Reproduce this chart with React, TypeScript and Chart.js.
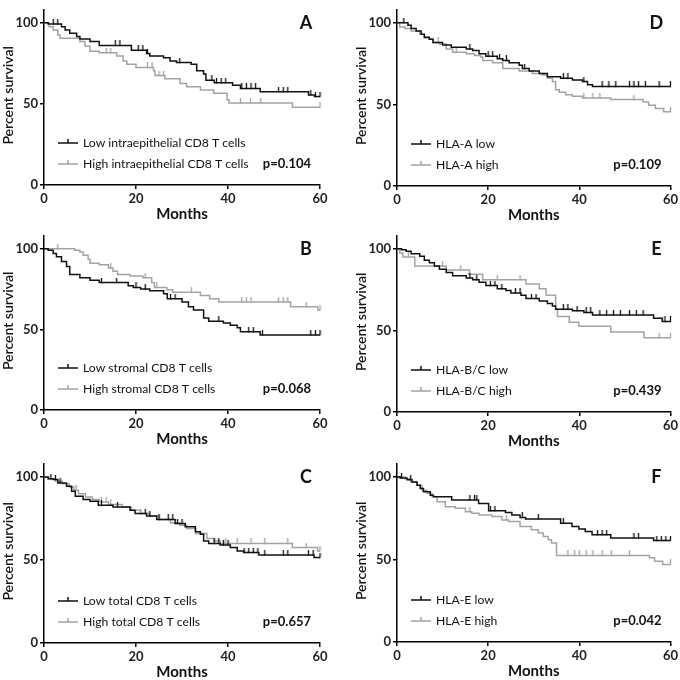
import React, { useEffect, useRef } from 'react';
import { Chart, registerables } from 'chart.js';
Chart.register(...registerables);

const X_TICKS = [0, 20, 40, 60];
const Y_TICKS = [0, 50, 100];

// ---- Panel A: intraepithelial CD8 ----
const A_LOW_T = [0.9, 3.8, 4.6, 5.6, 7.1, 7.8, 10, 12, 19, 22.3, 23, 26, 27.4, 28.8, 32, 33.2, 34.7, 35.2, 37, 41, 42.7, 47, 57.5, 58.8];
const A_LOW_S = [99.2, 97.5, 95.5, 93.5, 91.5, 90, 88.5, 86, 83, 81, 79.5, 78.5, 76.5, 75.5, 74.5, 70.5, 68.5, 64.5, 63, 61.5, 59.5, 57.5, 55.5, 54.5];
const A_LOW_C = [2, 3, 15.5, 16.5, 20.5, 21.5, 22.5, 29.5, 36.5, 37.5, 38.5, 39.5, 43, 44, 45, 46, 51, 52, 53, 58, 59, 60];
const A_HIGH_T = [1.1, 2, 3, 3.5, 7.8, 8.9, 10, 12, 15.8, 17.2, 18, 20, 23.8, 24.1, 26.3, 29.6, 31, 34, 36.9, 39.8, 40.2, 54];
const A_HIGH_S = [97.5, 95.5, 92.5, 90.5, 88.5, 85.5, 82.5, 81.5, 79.5, 76.5, 74.5, 72.5, 70.5, 67.5, 65.5, 62.5, 60.5, 58.5, 56.5, 52.5, 50.5, 48];
const A_HIGH_C = [13.5, 14.5, 22.5, 23.5, 25, 26, 42.7, 44.9, 47.1, 60];

// ---- Panel B: stromal CD8 ----
const B_LOW_T = [0.9, 2, 2.7, 3.8, 4.9, 5.6, 7.8, 10, 12, 18.3, 19.4, 21, 23, 26, 26.8, 30, 31.4, 32.5, 34.7, 35.8, 39, 40.5, 42, 42.7, 47];
const B_LOW_S = [99, 97, 95, 92, 89, 84, 82, 80.5, 79, 77, 76, 75, 74, 72, 69, 67, 64, 62, 57, 55, 54, 52.5, 51, 48.5, 46.5];
const B_LOW_C = [12.5, 15.8, 20, 22, 27.5, 28.5, 38, 44.5, 45.5, 47.5, 58, 59, 60];
const B_HIGH_T = [6.7, 7.8, 8.5, 9.6, 10, 12, 14, 15, 16, 18.7, 21.5, 23.4, 24, 26.7, 28, 34, 36, 38, 53.6, 59.5];
const B_HIGH_S = [99, 98, 96, 93.5, 91, 90, 88, 86, 84, 83, 82, 79, 76, 74.5, 73, 71, 69, 67, 64, 62];
const B_HIGH_C = [3, 14.5, 22, 24.5, 32, 43, 44, 45, 51, 52, 53, 57, 60];

// ---- Panel C: total CD8 ----
const C_LOW_T = [0.9, 2, 3, 4.9, 6, 6.8, 8.5, 10, 11.8, 15, 18.7, 19.8, 22.3, 24.5, 28.5, 30.7, 32.9, 34, 34.7, 35.8, 38.3, 40.5, 42, 43.4, 46.7, 58.7];
const C_LOW_S = [99, 98.5, 96.5, 94.5, 91.5, 88.5, 86.5, 85.5, 83, 82, 80, 78, 76.5, 74.5, 72, 70, 67, 65.5, 61.5, 60, 59, 57.5, 55.5, 54.5, 53, 51.5];
const C_LOW_C = [1.5, 2.5, 3.5, 12.5, 16, 22, 23, 25, 27, 28, 29, 30, 37, 38, 39, 40, 43.5, 44.5, 45.5, 46.5, 48, 52, 53, 57.5, 58.5, 60];
const C_HIGH_T = [1, 2.5, 4, 5.5, 6.5, 7.5, 9, 10.5, 12, 14, 17, 19, 21, 23, 25, 27.5, 29.5, 31, 33, 35.4, 36.9, 38.3, 54, 59.5];
const C_HIGH_S = [99, 97.5, 96, 94, 92, 90, 88, 86.5, 85, 83.5, 82, 80, 78, 76.5, 74.5, 72.5, 71, 69, 66, 63, 61.5, 60, 57.5, 55.5];
const C_HIGH_C = [7, 12.5, 13.5, 14.5, 21, 39.5, 42, 45, 48, 53, 57, 60];

// ---- Panel D: HLA-A ----
const D_LOW_T = [2.4, 3.1, 4.2, 5.3, 6, 7.1, 7.9, 10, 11.9, 15.2, 16.6, 18, 19.5, 22, 23.2, 24.6, 26.8, 27.5, 29, 31.2, 33, 35.9, 38.5, 40.7, 41.8, 42.9];
const D_LOW_S = [98.5, 96.5, 95, 93, 91, 90, 88, 86.5, 85, 84, 83, 81, 79.5, 78, 77, 75.5, 74, 72, 70.5, 69, 67, 66, 65, 64, 62, 61];
const D_LOW_C = [1.5, 16, 20, 21, 22.5, 24, 28, 36.5, 37.5, 41, 45, 46.5, 48, 51, 52, 53, 54.5, 57.5, 60];
const D_HIGH_T = [0.6, 1.7, 3.1, 5, 6, 7.1, 7.9, 9.3, 10.8, 12.2, 15.2, 17, 18.4, 18.8, 21, 23.2, 26.8, 29.7, 31.9, 33, 34.1, 34.8, 35.6, 37, 38.5, 40.7, 46.9, 54, 55.2, 56.7, 58.5];
const D_HIGH_S = [97.5, 96.5, 95, 93, 91.5, 90, 88, 87, 84, 82, 81, 80, 79, 77, 75.5, 72, 70.5, 69, 68, 66, 64, 59, 57.5, 56, 55, 54, 53, 51.5, 49.5, 47.5, 45.5];
const D_HIGH_C = [9, 13, 41, 43, 44.5, 52, 60];

// ---- Panel E: HLA-B/C ----
const E_LOW_T = [1, 2, 3.1, 5, 6, 7.1, 8.2, 9.3, 10.8, 12.2, 15.2, 16.6, 18, 19.5, 22, 23.9, 25, 27.2, 28.3, 31.2, 33, 34.1, 34.8, 38.5, 41, 42.9, 56.3, 58.2];
const E_LOW_S = [99.4, 98.6, 97, 95.5, 93, 91.5, 89.5, 87.5, 85.5, 83.5, 82.2, 81, 79.5, 77.5, 75.5, 74.5, 73, 71.5, 69.5, 68, 66.5, 65, 63, 62, 61, 59.5, 57.5, 55.5];
const E_LOW_C = [16, 17.5, 20.5, 21.5, 23, 26, 27, 29.5, 30.5, 36.5, 37.5, 39.5, 41.5, 42.5, 44.5, 46, 47.5, 49, 51, 52.5, 54, 58.8, 60];
const E_HIGH_T = [0.6, 1.3, 3.9, 10.8, 15.9, 18.8, 28.3, 31.2, 32.7, 34.8, 35.2, 37.8, 39.9, 46.9, 54.2];
const E_HIGH_S = [97.5, 95, 89.5, 87, 84.5, 81, 78.5, 75.5, 71.5, 63, 58.5, 55, 52.5, 49, 45.5];
const E_HIGH_C = [2.5, 10, 14, 22, 27, 57.5, 60];

// ---- Panel F: HLA-E ----
const F_LOW_T = [0.7, 2.2, 3.3, 4.4, 5.1, 5.8, 7.3, 8, 12, 17.9, 20.1, 23.8, 25.2, 27, 28.2, 35.9, 38.4, 39.9, 41.3, 42.8, 46.9, 56.3];
const F_LOW_S = [99.4, 98.4, 97, 95, 93, 91, 89, 88, 86, 84, 79.5, 78.5, 77, 75.5, 74.5, 72, 70, 68.5, 67, 65, 63, 61.5];
const F_LOW_C = [1, 3, 16, 17, 17.5, 20.5, 21.5, 27.5, 31, 36.5, 44, 45, 46, 52, 53, 57, 58, 59, 60];
const F_HIGH_T = [1.8, 3, 4.4, 5.5, 6.6, 7.7, 8.8, 10.6, 12.8, 15, 16.4, 18, 20.8, 23, 24.5, 27, 29.5, 31, 32.1, 33.2, 33.9, 35, 55.4, 56.5, 58.3];
const F_HIGH_S = [99, 97, 95, 92, 90, 88, 85, 82, 81, 79, 78, 77, 76, 74, 73, 70, 68, 66, 64, 62, 60, 52.5, 51, 49, 47];
const F_HIGH_C = [16, 24, 37.5, 39, 40, 41.5, 43, 45, 47, 51, 60];

const LOW_COLOR = '#111111';
const HIGH_COLOR = '#a3a3a3';
const FONT = 'Lato, "Open Sans", sans-serif';

type Series = { label: string; T: number[]; S: number[]; C: number[] };
type PanelCfg = {
  letter: string; p: string; low: Series; high: Series;
  x: number; y: number; w: number; h: number;
  axisLeft: number; top: number; bottom: number; padRight: number;
};

function stepPoints(T: number[], S: number[]) {
  const pts = [{ x: 0, y: 100 }];
  T.forEach((t, i) => pts.push({ x: t, y: S[i] }));
  pts.push({ x: 60, y: S[S.length - 1] });
  return pts;
}
function survivalAt(T: number[], S: number[], t: number) {
  let s = 100;
  for (let i = 0; i < T.length; i++) if (T[i] <= t) s = S[i];
  return s;
}
function tickImage(color: string) {
  const c = document.createElement('canvas');
  c.width = 3; c.height = 10;
  const g = c.getContext('2d')!;
  g.strokeStyle = color; g.lineWidth = 1.3;
  g.beginPath(); g.moveTo(1.5, 0); g.lineTo(1.5, 5.5); g.stroke();
  return c;
}

const PANELS: PanelCfg[] = [
  { letter: 'A', p: 'p=0.104', low: { label: 'Low intraepithelial CD8 T cells', T: A_LOW_T, S: A_LOW_S, C: A_LOW_C }, high: { label: 'High intraepithelial CD8 T cells', T: A_HIGH_T, S: A_HIGH_S, C: A_HIGH_C }, x: 0, y: 0, w: 340, h: 226, axisLeft: 44, top: 4, bottom: 185, padRight: 20 },
  { letter: 'B', p: 'p=0.068', low: { label: 'Low stromal CD8 T cells', T: B_LOW_T, S: B_LOW_S, C: B_LOW_C }, high: { label: 'High stromal CD8 T cells', T: B_HIGH_T, S: B_HIGH_S, C: B_HIGH_C }, x: 0, y: 226, w: 340, h: 228, axisLeft: 44, top: 3, bottom: 184, padRight: 20 },
  { letter: 'C', p: 'p=0.657', low: { label: 'Low total CD8 T cells', T: C_LOW_T, S: C_LOW_S, C: C_LOW_C }, high: { label: 'High total CD8 T cells', T: C_HIGH_T, S: C_HIGH_S, C: C_HIGH_C }, x: 0, y: 454, w: 340, h: 226, axisLeft: 44, top: 8, bottom: 189, padRight: 20 },
  { letter: 'D', p: 'p=0.109', low: { label: 'HLA-A low', T: D_LOW_T, S: D_LOW_S, C: D_LOW_C }, high: { label: 'HLA-A high', T: D_HIGH_T, S: D_HIGH_S, C: D_HIGH_C }, x: 340, y: 0, w: 340, h: 226, axisLeft: 57, top: 5, bottom: 186, padRight: 8 },
  { letter: 'E', p: 'p=0.439', low: { label: 'HLA-B/C low', T: E_LOW_T, S: E_LOW_S, C: E_LOW_C }, high: { label: 'HLA-B/C high', T: E_HIGH_T, S: E_HIGH_S, C: E_HIGH_C }, x: 340, y: 226, w: 340, h: 228, axisLeft: 57, top: 5, bottom: 186, padRight: 8 },
  { letter: 'F', p: 'p=0.042', low: { label: 'HLA-E low', T: F_LOW_T, S: F_LOW_S, C: F_LOW_C }, high: { label: 'HLA-E high', T: F_HIGH_T, S: F_HIGH_S, C: F_HIGH_C }, x: 340, y: 454, w: 340, h: 226, axisLeft: 57, top: 7, bottom: 188, padRight: 8 },
];

function Panel({ cfg }: { cfg: PanelCfg }) {
  const ref = useRef<HTMLCanvasElement>(null);
  useEffect(() => {
    const series = [
      { s: cfg.low, color: LOW_COLOR },
      { s: cfg.high, color: HIGH_COLOR },
    ];
    const datasets: any[] = [];
    series.forEach(({ s, color }) => {
      datasets.push({
        type: 'line', label: s.label, data: stepPoints(s.T, s.S), stepped: 'before',
        borderColor: color, borderWidth: 1.5, pointRadius: 0, fill: false, clip: false,
      });
      datasets.push({
        type: 'scatter', label: s.label + ' censored',
        data: s.C.map((t) => ({ x: t, y: survivalAt(s.T, s.S, t) })),
        pointStyle: tickImage(color), pointRadius: 5, showLine: false, clip: false,
      });
    });
    const overlay = {
      id: 'overlay',
      afterDraw(chart: any) {
        const { ctx, chartArea: ca, scales } = chart;
        ctx.save();
        ctx.fillStyle = '#111';
        // axis titles
        ctx.font = `bold 15px ${FONT}`;
        ctx.textAlign = 'center';
        ctx.textBaseline = 'middle';
        ctx.fillText('Months', (ca.left + ca.right) / 2, ca.bottom + 29);
        ctx.save();
        ctx.translate(ca.left - 36, (ca.top + ca.bottom) / 2 - 2);
        ctx.rotate(-Math.PI / 2);
        ctx.font = `600 14px ${FONT}`;
        ctx.fillText('Percent survival', 0, 0);
        ctx.restore();
        // panel letter
        ctx.font = `bold 18px ${FONT}`;
        ctx.fillText(cfg.letter, ca.right - 14, scales.y.getPixelForValue(100));
        // legend
        const rows = [
          { s: cfg.low, color: LOW_COLOR, y: ca.bottom - 42 },
          { s: cfg.high, color: HIGH_COLOR, y: ca.bottom - 21 },
        ];
        rows.forEach((r) => {
          ctx.strokeStyle = r.color;
          ctx.lineWidth = 1.5;
          ctx.beginPath();
          ctx.moveTo(ca.left + 14, r.y);
          ctx.lineTo(ca.left + 34, r.y);
          ctx.moveTo(ca.left + 24, r.y);
          ctx.lineTo(ca.left + 24, r.y - 4);
          ctx.stroke();
          ctx.fillStyle = '#111';
          ctx.font = `12.2px ${FONT}`;
          ctx.textAlign = 'left';
          ctx.fillText(r.s.label, ca.left + 39, r.y);
        });
        ctx.font = `bold 13px ${FONT}`;
        ctx.textAlign = 'right';
        ctx.fillText(cfg.p, ca.right - 9, ca.bottom - 21);
        ctx.restore();
      },
    };
    const axisCommon = {
      border: { display: true, color: '#000', width: 1.5 },
      grid: { display: true, drawOnChartArea: false, drawTicks: true, tickLength: 4, color: '#000', lineWidth: 1.5 },
    };
    const chart = new Chart(ref.current!, {
      type: 'line',
      data: { datasets },
      options: {
        responsive: false,
        animation: false,
        events: [],
        layout: { padding: { top: cfg.top, right: cfg.padRight, left: 0, bottom: 0 } },
        plugins: { legend: { display: false }, tooltip: { enabled: false } },
        scales: {
          x: {
            type: 'linear', min: 0, max: 60, ...axisCommon,
            afterBuildTicks: (sc: any) => { sc.ticks = X_TICKS.map((v) => ({ value: v })); },
            afterFit: (sc: any) => { sc.height = cfg.h - cfg.bottom; },
            ticks: { color: '#222', padding: 2, maxRotation: 0, font: { family: FONT, size: 13, weight: 'bold' } },
          },
          y: {
            type: 'linear', min: 0, max: 108, ...axisCommon,
            afterBuildTicks: (sc: any) => { sc.ticks = Y_TICKS.map((v) => ({ value: v })); },
            afterFit: (sc: any) => { sc.width = cfg.axisLeft; },
            ticks: { color: '#222', padding: 2, font: { family: FONT, size: 13, weight: 'bold' } },
          },
        },
      } as any,
      plugins: [overlay],
    });
    return () => chart.destroy();
  }, []);
  return (
    <canvas ref={ref} width={cfg.w} height={cfg.h}
      style={{ position: 'absolute', left: cfg.x, top: cfg.y, width: cfg.w, height: cfg.h }} />
  );
}

export default function App() {
  return (
    <div style={{ position: 'absolute', left: 0, top: 0, width: 680, height: 680, background: '#fff' }}>
      {PANELS.map((p) => <Panel key={p.letter} cfg={p} />)}
    </div>
  );
}
